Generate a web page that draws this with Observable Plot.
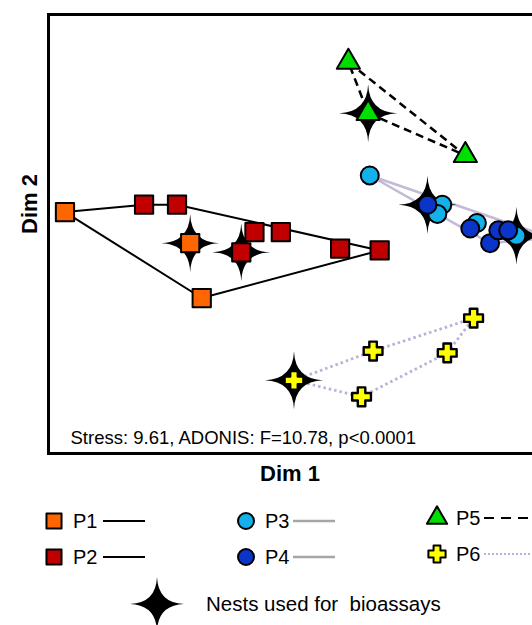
<!DOCTYPE html>
<html>
<head>
<meta charset="utf-8">
<script src="https://cdn.jsdelivr.net/npm/d3@7"></script>
<script src="https://cdn.jsdelivr.net/npm/@observablehq/plot@0.6"></script>
<style>
  html, body { margin: 0; padding: 0; overflow: hidden; background: white; }
  #wrap { position: relative; width: 532px; height: 625px; overflow: hidden; font-family: "Liberation Sans", Arial, sans-serif; }
  #chart { position: absolute; left: 0; top: 0; width: 580px; }
  #chart svg { max-width: none !important; }
  #legend { position: absolute; left: 0; top: 490px; }
</style>
</head>
<body>
<div id="wrap"><div id="chart"></div><svg id="legend" width="532" height="135"></svg></div>
<script>
// ---- data (NMDS coordinates) ----
const groups = ["P1", "P2", "P3", "P4", "P5", "P6"];
const groupColors = ["#ff6600", "#c00000", "#14b0ea", "#0a35c8", "#00e000", "#ffff00"];

const p1x = [-1.40, -0.57];
const p1y = [0.12, -0.35];
const p2x = [-0.92, -0.72, -0.25, -0.09, 0.27, 0.51];
const p2y = [0.16, 0.16, 0.01, 0.01, -0.08, -0.09];
const p3x = [0.45, 0.89, 0.86, 1.10, 1.55];
const p3y = [0.32, 0.16, 0.11, 0.06, -0.02];
const p4x = [1.06, 1.18, 1.23, 1.29];
const p4y = [0.03, -0.05, 0.02, 0.02];
const p5x = [0.32, 1.03];
const p5y = [0.94, 0.43];
const p6x = [0.47, 1.08, 0.92, 0.40];
const p6y = [-0.64, -0.46, -0.65, -0.89];

// nests used for bioassays (one per group)
const nestGroup = ["P1", "P2", "P3", "P4", "P5", "P6"];
const nestX = [-0.64, -0.33, 1.34, 0.80, 0.44, -0.01];
const nestY = [-0.05, -0.10, -0.01, 0.16, 0.66, -0.80];

const stressLabel = "Stress: 9.61, ADONIS: F=10.78, p<0.0001";
const xLabel = "Dim 1";
const yLabel = "Dim 2";
const nestLabel = "Nests used for\u00a0 bioassays";

// ---- build table ----
const xs = [p1x, p2x, p3x, p4x, p5x, p6x];
const ys = [p1y, p2y, p3y, p4y, p5y, p6y];
const points = [];
groups.forEach((g, i) => xs[i].forEach((x, j) => points.push({group: g, x, y: ys[i][j], nest: false})));
nestGroup.forEach((g, i) => points.push({group: g, x: nestX[i], y: nestY[i], nest: true}));
const nests = points.filter(d => d.nest);
const of = (...gs) => points.filter(d => gs.includes(d.group));

const star4 = {
  draw(ctx, size) {
    const R = Math.sqrt(size / Math.PI), c = R * 0.04;
    ctx.moveTo(0, -R);
    ctx.quadraticCurveTo(c, -c, R, 0);
    ctx.quadraticCurveTo(c, c, 0, R);
    ctx.quadraticCurveTo(-c, c, -R, 0);
    ctx.quadraticCurveTo(-c, -c, 0, -R);
    ctx.closePath();
  }
};
const fatCross = {
  draw(ctx, size) {
    const a = Math.sqrt(size / Math.PI), b = a * 0.4;
    ctx.moveTo(-b, -a);
    ctx.lineTo(b, -a); ctx.lineTo(b, -b); ctx.lineTo(a, -b); ctx.lineTo(a, b);
    ctx.lineTo(b, b); ctx.lineTo(b, a); ctx.lineTo(-b, a); ctx.lineTo(-b, b);
    ctx.lineTo(-a, b); ctx.lineTo(-a, -b); ctx.lineTo(-b, -b);
    ctx.closePath();
  }
};
const symbols = {P1: "square", P2: "square", P3: "circle", P4: "circle", P5: "triangle", P6: fatCross};
const radii = {P1: 10.3, P2: 10.3, P3: 9, P4: 9, P5: 8.6, P6: 9.4};
const color = g => groupColors[groups.indexOf(g)];

const dotMarks = groups.map(g => Plot.dot(of(g), {
  x: "x", y: "y", symbol: symbols[g], r: radii[g], fill: color(g),
  stroke: "black", strokeWidth: g === "P6" ? 2.4 : 2, strokeLinejoin: "round"
}));

const chart = Plot.plot({
  width: 580, height: 490,
  marginLeft: 48, marginRight: 13, marginTop: 14, marginBottom: 37,
  x: {domain: [-1.5, 1.65], axis: null},
  y: {domain: [-1.2, 1.2], axis: null},
  style: {fontFamily: "'Liberation Sans', Arial, sans-serif", background: "white", color: "black", maxWidth: "none"},
  marks: [
    Plot.hull(of("P1", "P2"), {x: "x", y: "y", stroke: "black", strokeWidth: 2}),
    Plot.hull(of("P3", "P4"), {x: "x", y: "y", stroke: "#c4bad8", strokeWidth: 2.5}),
    Plot.hull(of("P5"), {x: "x", y: "y", stroke: "black", strokeWidth: 2.5, strokeDasharray: "8,5"}),
    Plot.hull(of("P6"), {x: "x", y: "y", stroke: "#bbb0d8", strokeWidth: 2.8, strokeDasharray: "2.5,3"}),
    Plot.dot(nests, {x: "x", y: "y", symbol: star4, r: 29, fill: "black", stroke: "none"}),
    ...dotMarks,
    Plot.frame({stroke: "black", strokeWidth: 3}),
    Plot.text([xLabel], {frameAnchor: "bottom", dx: -18, dy: 20, lineAnchor: "middle", fontWeight: "bold", fontSize: 22}),
    Plot.text([yLabel], {frameAnchor: "left", dx: -19, rotate: -90, lineAnchor: "middle", fontWeight: "bold", fontSize: 22}),
    Plot.text([stressLabel], {frameAnchor: "bottom-left", dx: 22, dy: -15, lineAnchor: "middle", textAnchor: "start", fontSize: 18.5})
  ]
});
document.getElementById("chart").append(chart);

// ---- legend ----
const lg = d3.select("#legend");
const legendItems = [
  {g: "P1", cx: 54, cy: 31, tx: 73, lx: [103, 145], stroke: "black", dash: null, w: 2.2},
  {g: "P2", cx: 54, cy: 67, tx: 73, lx: [103, 145], stroke: "black", dash: null, w: 2.2},
  {g: "P3", cx: 246, cy: 31, tx: 265, lx: [293, 335], stroke: "#a6a6a6", dash: null, w: 2.5},
  {g: "P4", cx: 246, cy: 67, tx: 265, lx: [293, 335], stroke: "#a6a6a6", dash: null, w: 2.5},
  {g: "P5", cx: 437, cy: 28, tx: 456, lx: [484, 560], stroke: "black", dash: "10,7", w: 2.2},
  {g: "P6", cx: 437, cy: 64, tx: 456, lx: [484, 560], stroke: "#bbb0d8", dash: "2,2", w: 2.2}
];
const legendSizes = {P1: 8.5, P2: 8.5, P3: 8, P4: 8, P5: 7.5, P6: 8.6};
const legendSymbols = {square: d3.symbolSquare, circle: d3.symbolCircle, triangle: d3.symbolTriangle};
legendItems.forEach(it => {
  const r = legendSizes[it.g];
  const s = symbols[it.g];
  const sym = typeof s === "string" ? legendSymbols[s] : s;
  lg.append("path")
    .attr("d", d3.symbol(sym, r * r * Math.PI)())
    .attr("transform", `translate(${it.cx},${it.cy})`)
    .attr("fill", color(it.g)).attr("stroke", "black").attr("stroke-width", 2).attr("stroke-linejoin", "round");
  lg.append("text").attr("x", it.tx).attr("y", it.cy + 7).attr("font-size", 20)
    .attr("font-family", "'Liberation Sans', Arial, sans-serif").text(it.g);
  lg.append("line").attr("x1", it.lx[0]).attr("x2", it.lx[1]).attr("y1", it.cy).attr("y2", it.cy)
    .attr("stroke", it.stroke).attr("stroke-width", it.w).attr("stroke-dasharray", it.dash);
});
lg.append("path")
  .attr("d", d3.symbol(star4, 27 * 27 * Math.PI)())
  .attr("transform", "translate(157,114)")
  .attr("fill", "black");
lg.append("text").attr("x", 206).attr("y", 121).attr("font-size", 20.5)
  .attr("font-family", "'Liberation Sans', Arial, sans-serif").text(nestLabel);
</script>
</body>
</html>
